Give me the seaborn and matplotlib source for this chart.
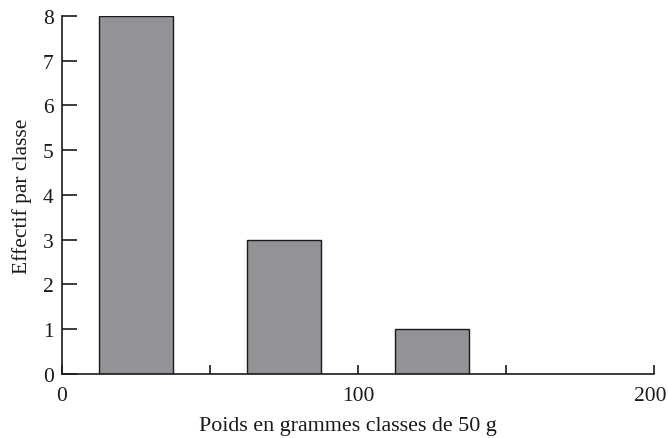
import matplotlib
matplotlib.use("Agg")
import matplotlib.pyplot as plt
import matplotlib.transforms as mtransforms
import seaborn as sns
import pandas as pd

# Weight classes (centre of each 50 g class) and counts per class
class_centres = [25, 75, 125]
counts = [8, 3, 1]
x_ticks = [0, 50, 100, 150, 200]
x_tick_labels = ["0", "", "100", "", "200"]
y_ticks = [0, 1, 2, 3, 4, 5, 6, 7, 8]

sns.set_theme(style="ticks")
plt.rcParams["font.family"] = ["Liberation Serif", "DejaVu Serif"]

df = pd.DataFrame({"centre": class_centres, "effectif": counts})

fig = plt.figure(figsize=(6.68, 4.39), dpi=100)
ax = fig.add_axes([0.0928, 0.1458, 0.8862, 0.8155])

sns.barplot(data=df, x="centre", y="effectif", native_scale=True, width=0.5,
            color="#929297", saturation=1, edgecolor="#1a1a1a", linewidth=1.0,
            ax=ax)

ax.set_xlim(0, 200)
ax.set_ylim(0, 8)
ax.set_xticks(x_ticks)
ax.set_xticklabels(x_tick_labels)
ax.set_yticks(y_ticks)

for s in ["top", "right"]:
    ax.spines[s].set_visible(False)
for s in ["left", "bottom"]:
    ax.spines[s].set_color("#1a1a1a")
    ax.spines[s].set_linewidth(1.2)

ax.tick_params(axis="y", direction="in", length=11, width=1.2, color="#1a1a1a",
               labelsize=15.5, pad=6, labelcolor="#1a1a1a")
ax.tick_params(axis="x", direction="in", length=6.5, width=1.2, color="#1a1a1a",
               labelsize=15.5, pad=9, labelcolor="#1a1a1a")

# nudge the last x label so it stays inside the figure
last = ax.get_xticklabels()[-1]
last.set_transform(last.get_transform() +
                   mtransforms.ScaledTranslation(-4 / 100, 0, fig.dpi_scale_trans))

ax.set_xlabel("Poids en grammes classes de 50 g", fontsize=15.8, color="#1a1a1a")
ax.xaxis.set_label_coords(0.483, -0.118)
ax.set_ylabel("Effectif par classe", fontsize=15.5, color="#1a1a1a", labelpad=8)

fig.savefig("out.png", dpi=100)
